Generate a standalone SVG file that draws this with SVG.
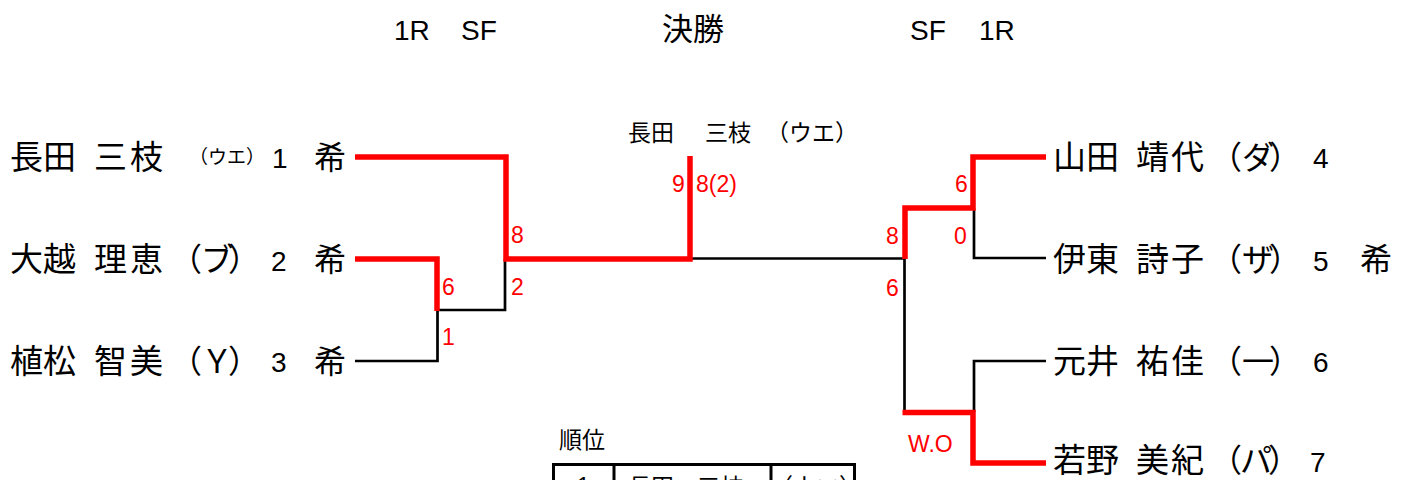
<svg xmlns="http://www.w3.org/2000/svg" width="1403" height="480" viewBox="0 0 1403 480">
<style>
text{fill:#000}
.cj{font-family:"Noto Sans CJK JP","Noto Sans CJK SC",sans-serif}
.nm{font-size:33px}
.pk{font-size:32px}
.lt{font-family:"Liberation Sans",Arial,sans-serif}
.dg{font-size:28px}
.hd{font-size:28px}
.sc{font-family:"Liberation Sans",Arial,sans-serif;font-size:23px;fill:#ff0000}
.bk{fill:none;stroke:#000;stroke-width:2.7}
.rd{fill:none;stroke:#ff0000;stroke-width:5.5;stroke-linejoin:miter}
.tb{fill:none;stroke:#000;stroke-width:3}
</style>

<g id="headers">
<text class="lt hd" x="394" y="40">1R</text>
<text class="lt hd" x="461" y="40">SF</text>
<text class="cj" x="662" y="40" font-size="31">決勝</text>
<text class="lt hd" x="910" y="40">SF</text>
<text class="lt hd" x="979" y="40">1R</text>
</g>

<g id="connectors">
<path class="bk" d="M355,361 H437.5 V310"/>
<path class="bk" d="M437.5,310 H505 V259"/>
<path class="bk" d="M690,258.5 H905"/>
<path class="bk" d="M904.5,259 V412"/>
<path class="bk" d="M1046,258 H974 V208"/>
<path class="bk" d="M1046,361 H974 V412"/>
<path class="rd" d="M355,157 H506 V259 H690 V156"/>
<path class="rd" d="M355,259 H437 V311"/>
<path class="rd" d="M1046,157 H973 V208 H905 V259"/>
<path class="rd" d="M1046,463 H973 V412.5 H902.5"/>
</g>

<g id="scores">
<text class="sc" x="672" y="192">9</text>
<text class="sc" x="696" y="192">8(2)</text>
<text class="sc" x="511" y="243">8</text>
<text class="sc" x="511" y="295">2</text>
<text class="sc" x="442" y="295">6</text>
<text class="sc" x="442" y="345">1</text>
<text class="sc" x="955" y="192">6</text>
<text class="sc" x="886" y="244">8</text>
<text class="sc" x="954" y="244">0</text>
<text class="sc" x="886" y="296">6</text>
<text class="sc" x="908" y="452" font-size="22">W.O</text>
</g>

<g id="winner">
<text class="cj" font-size="23" x="628" y="141">長田</text>
<text class="cj" font-size="23" x="705" y="141">三枝</text>
<text class="cj" font-size="23" x="766" y="141">（ウエ）</text>
</g>

<g id="player1">
<text class="cj nm" x="10" y="169">長田</text>
<text class="cj nm" x="94" y="169" letter-spacing="3">三枝</text>
<text class="cj" font-size="19" x="189" y="164">（ウエ）</text>
<text class="lt dg" x="272" y="168">1</text>
<text class="cj pk" x="314" y="169">希</text>
</g>
<g id="player2">
<text class="cj nm" x="10" y="271">大越</text>
<text class="cj nm" x="94" y="271" letter-spacing="3">理恵</text>
<text class="cj pk" x="170" y="271" dx="0 -1 -5">（ブ）</text>
<text class="lt dg" x="271" y="271">2</text>
<text class="cj pk" x="314" y="271">希</text>
</g>
<g id="player3">
<text class="cj nm" x="10" y="373">植松</text>
<text class="cj nm" x="94" y="373" letter-spacing="3">智美</text>
<text class="cj pk" x="170" y="373" dx="0 -1 -5">（Ｙ）</text>
<text class="lt dg" x="271" y="372">3</text>
<text class="cj pk" x="314" y="373">希</text>
</g>
<g id="player4">
<text class="cj nm" x="1053" y="169">山田</text>
<text class="cj nm" x="1136" y="169" letter-spacing="2">靖代</text>
<text class="cj pk" x="1210" y="169" dx="0 0 -5">（ダ）</text>
<text class="lt dg" x="1313" y="168">4</text>
</g>
<g id="player5">
<text class="cj nm" x="1053" y="271">伊東</text>
<text class="cj nm" x="1136" y="271" letter-spacing="2">詩子</text>
<text class="cj pk" x="1210" y="271" dx="0 0 -5">（ザ）</text>
<text class="lt dg" x="1313" y="271">5</text>
<text class="cj pk" x="1360" y="271">希</text>
</g>
<g id="player6">
<text class="cj nm" x="1053" y="373">元井</text>
<text class="cj nm" x="1136" y="373" letter-spacing="2">祐佳</text>
<text class="cj pk" x="1210" y="373" dx="0 0 -5">（一）</text>
<text class="lt dg" x="1313" y="372">6</text>
</g>
<g id="player7">
<text class="cj nm" x="1053" y="472" font-size="32">若野</text>
<text class="cj nm" x="1136" y="472" font-size="32" letter-spacing="2">美紀</text>
<text class="cj pk" x="1210" y="472" dx="0 -2 -4">（パ）</text>
<text class="lt dg" x="1310" y="472">7</text>
</g>

<g id="ranking">
<text class="cj" font-size="23" x="559" y="448">順位</text>
<path class="tb" d="M552,464.5 H856 M553.5,463 V482 M614,463 V482 M771,463 V482 M854.5,463 V482"/>
<text class="lt" font-size="23" x="583.5" y="494" text-anchor="middle">1</text>
<text class="cj" font-size="23" x="628" y="495">長田　三枝</text>
<text class="cj" font-size="23" x="770" y="495">（ウエ）</text>
</g>
</svg>
